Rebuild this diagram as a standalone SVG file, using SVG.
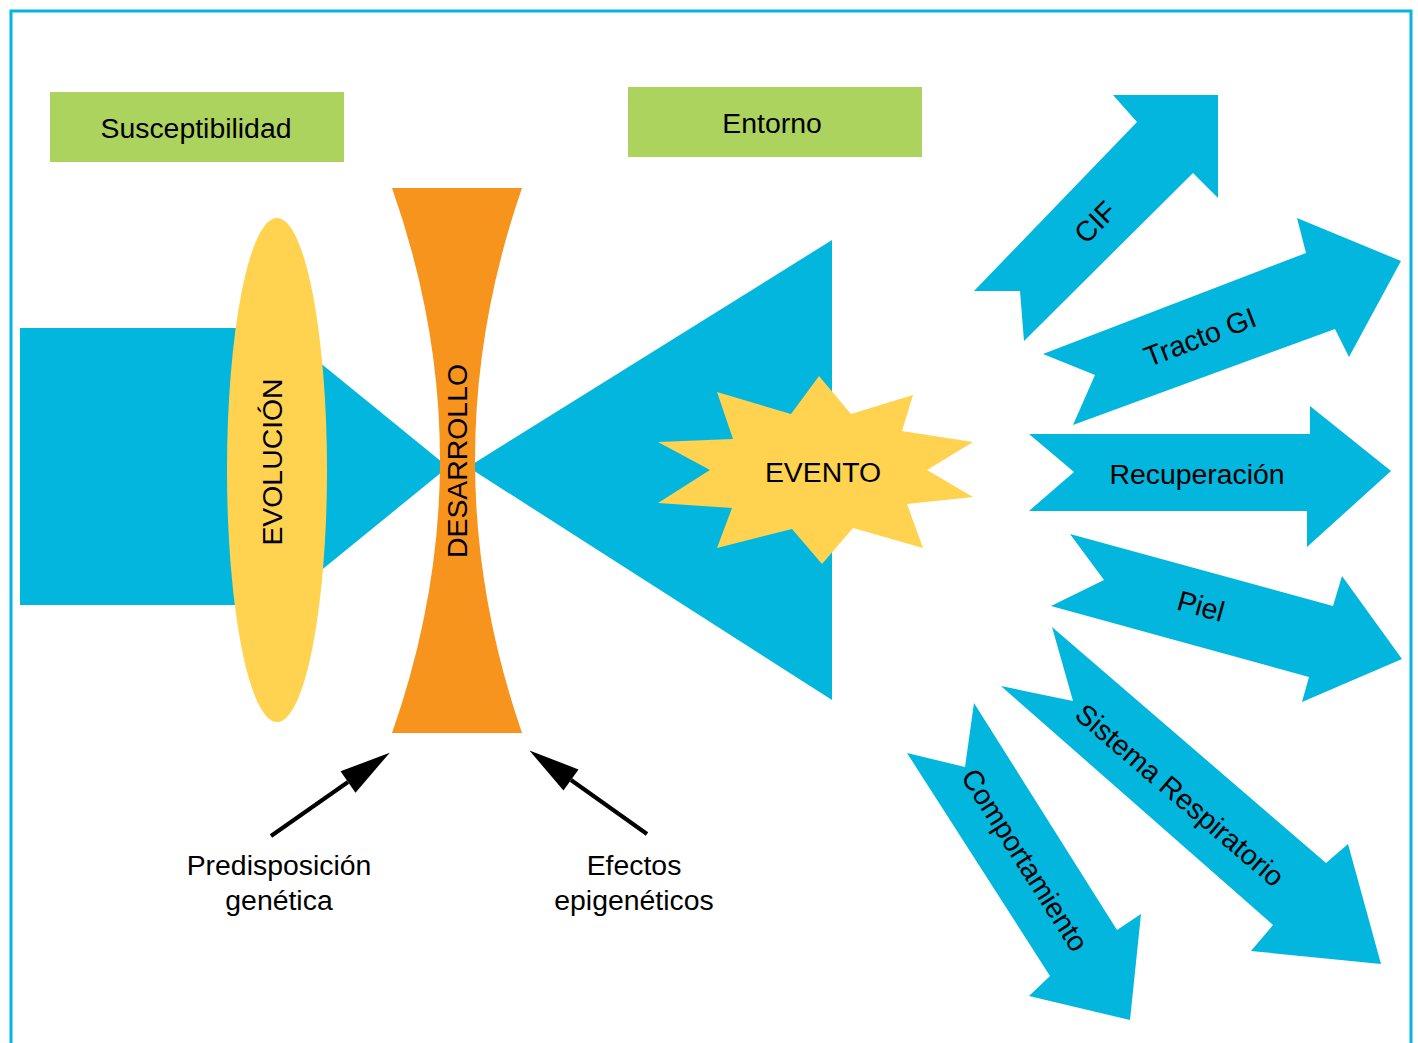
<svg xmlns="http://www.w3.org/2000/svg" width="1418" height="1043" viewBox="0 0 1418 1043">
<defs>
<style>
.t{font-family:"Liberation Sans",Arial,sans-serif;font-size:28.4px;fill:#000;text-anchor:middle;dominant-baseline:central}
.blue{fill:#02B6DE}
.green{fill:#ADD35F}
.ptr{stroke:#000;stroke-width:4;fill:none}
</style>
<marker id="ah" markerUnits="userSpaceOnUse" markerWidth="60" markerHeight="30" refX="0" refY="0" viewBox="0 -15 55 30" orient="auto" overflow="visible">
<path d="M0,-13 L51,0 L0,13 Z" fill="#000"/>
</marker>
</defs>
<rect x="0" y="0" width="1418" height="1043" fill="#fff"/>
<rect x="11" y="11" width="1400" height="1060" fill="#fff" stroke="#02B6DE" stroke-width="3"/>

<g id="susceptibilidad">
<rect class="green" x="50" y="92" width="294" height="70"/>
<text class="t" x="196" y="128">Susceptibilidad</text>
</g>
<g id="entorno">
<rect class="green" x="628" y="87" width="294" height="70"/>
<text class="t" x="772" y="123">Entorno</text>
</g>

<g id="entrada">
<rect class="blue" x="20" y="328" width="260" height="277"/>
<polygon class="blue" points="270,322 448,467 270,612"/>
</g>
<g id="evolucion">
<ellipse cx="277" cy="470" rx="50" ry="252" fill="#FFD24F"/>
<text class="t" transform="translate(272,462) rotate(-90)">EVOLUCIÓN</text>
</g>
<g id="salida">
<polygon class="blue" points="468,467 832,240 832,700"/>
</g>
<g id="desarrollo">
<path d="M392,188 L522,188 Q428,460 522,733 L392,733 Q488,460 392,188 Z" fill="#F7941E"/>
<text class="t" transform="translate(457,461) rotate(-90)">DESARROLLO</text>
</g>
<g id="evento">
<polygon fill="#FFD24F" points="819,376 851,414 913,395 902,431 973,442 927,470 973,497 907,504 923,548 853,528 822,564 792,529 717,548 732,508 658,503 710,470 658,442 733,439 717,392 791,414"/>
<text class="t" x="823" y="472">EVENTO</text>
</g>

<g id="cif">
<polygon class="blue" points="974,291 1137,122 1113,95 1218,95 1218,198 1193,173 1024,341 1020,291"/>
<text class="t" transform="translate(1095,222) rotate(-45)">CIF</text>
</g>
<g id="tracto-gi">
<polygon class="blue" points="1043,354 1306,253 1297,218 1401,261 1349,357 1335,329 1073,425 1095,375"/>
<text class="t" transform="translate(1200,337) rotate(-21)">Tracto GI</text>
</g>
<g id="recuperacion">
<polygon class="blue" points="1029,434 1310,434 1310,406 1391,471 1307,547 1307,511 1029,511 1074,472"/>
<text class="t" x="1197" y="474">Recuperación</text>
</g>
<g id="piel">
<polygon class="blue" points="1070,534 1333,606 1342,576 1402,659 1302,702 1309,677 1051,606 1104,580"/>
<text class="t" transform="translate(1201,606) rotate(15.5)">Piel</text>
</g>
<g id="sistema-respiratorio">
<polygon class="blue" points="1052,627 1326,863 1348,844 1381,964 1251,951 1273,925 1001,686 1073,701"/>
<text class="t" transform="translate(1180,795) rotate(40.5)">Sistema Respiratorio</text>
</g>
<g id="comportamiento">
<polygon class="blue" points="974,703 1117,930 1141,914 1130,1020 1029,996 1050,976 907,753 965,767"/>
<text class="t" transform="translate(1025,860) rotate(57.5)">Comportamiento</text>
</g>

<g id="connectors">
<line class="ptr" x1="271" y1="836" x2="348" y2="782" marker-end="url(#ah)"/>
<line class="ptr" x1="647" y1="834" x2="571" y2="780" marker-end="url(#ah)"/>
</g>

<g id="predisposicion">
<text class="t" x="279" y="865">Predisposición</text>
<text class="t" x="279" y="900">genética</text>
</g>
<g id="efectos">
<text class="t" x="634" y="865">Efectos</text>
<text class="t" x="634" y="900">epigenéticos</text>
</g>
</svg>
